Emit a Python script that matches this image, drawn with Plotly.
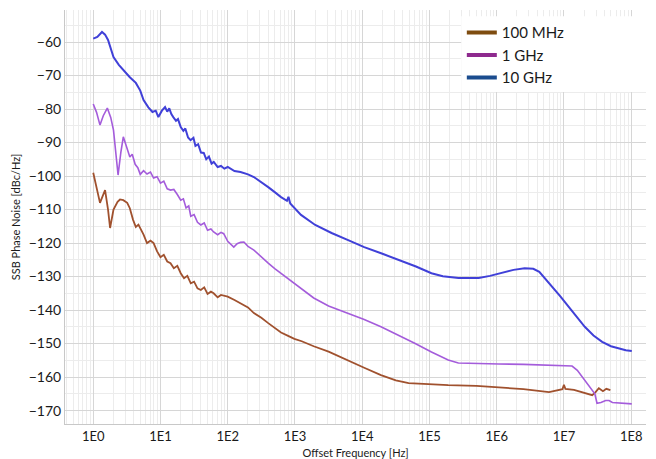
import plotly.graph_objects as go

# ---- data (offset frequency in Hz, SSB phase noise in dBc/Hz) ----
f_10g = [1, 1.15, 1.35, 1.5, 1.66, 2.0, 2.4, 2.8, 3.5, 4.3, 5.0, 5.6, 6.6, 7.6, 8.5, 9.3,
         10.5, 11.7, 12.6, 13.5, 14.5, 15.5, 17.0, 18.2, 20, 21.9, 23.4, 25.7, 28, 30.9, 33.1,
         36.3, 40, 44, 47.9, 52.5, 57.5, 62, 70.8, 79.4, 89.1, 100, 112, 126, 155, 200, 245,
         316, 400, 500, 620, 760, 800, 850, 1020, 1230, 2000, 3500, 6300, 10700, 20000, 35000,
         63000, 107000, 158000, 270000, 400000, 540000, 794000, 1.17e6, 1.78e6, 2.6e6, 3.5e6,
         4.3e6, 5.2e6, 6.6e6, 8.9e6, 1.17e7, 1.55e7, 2.04e7, 2.75e7, 3.7e7, 5.0e7, 6.6e7,
         8.3e7, 1.02e8]
pn_10g = [-59, -58.5, -57, -57.8, -59.4, -64.5, -66.8, -68.4, -70.5, -72.2, -74.5, -77.3,
          -79.5, -80.9, -80.5, -82.4, -80.5, -79.4, -80.8, -79.8, -81.5, -82.4, -83.5, -83,
          -85.4, -86.5, -85.8, -88.5, -89.3, -88.6, -91, -90.5, -93, -93.1, -95, -94.2, -96.3,
          -95.8, -97.3, -97, -97.8, -97.3, -98, -98.5, -98.8, -99.5, -100.3, -101.8, -103.3,
          -104.8, -106.3, -107.4, -106.2, -108.2, -109.8, -111.6, -114.6, -117, -119.2,
          -121.2, -123.2, -125, -127, -129, -129.9, -130.4, -130.5, -130.4, -129.8, -129,
          -128, -127.5, -127.7, -128.6, -130.5, -133.1, -136, -139, -142.2, -145, -147.6,
          -149.5, -150.8, -151.5, -152, -152.2]

f_1g = [1, 1.12, 1.26, 1.41, 1.62, 1.82, 2.0, 2.19, 2.34, 2.57, 2.8, 3.1, 3.3, 3.5, 3.8,
        4.2, 4.6, 5.0, 5.6, 6.3, 7.1, 7.9, 8.9, 10, 11.2, 12.6, 14.1, 15.8, 17.8, 20, 21.9,
        24, 26.3, 28.2, 31.6, 35.5, 39.8, 44.7, 50.1, 56.2, 61.7, 70.8, 79.4, 87.1, 100, 112,
        123, 138, 155, 174, 200, 245, 316, 400, 500, 617, 794, 977, 1260, 1900, 3160, 6170,
        10700, 19000, 33900, 60300, 107000, 190000, 269000, 500000, 1.07e6, 2.5e6, 6.0e6,
        1.0e7, 1.32e7, 1.58e7, 1.86e7, 2.24e7, 2.63e7, 2.88e7, 3.1e7, 3.55e7, 4.17e7,
        4.68e7, 5.25e7, 6.6e7, 8.3e7, 1.02e8]
pn_1g = [-78.5, -81, -84.8, -82, -79.7, -82.5, -86.3, -93, -99.7, -93, -88.3, -91, -93.1,
         -94.3, -93.5, -96.5, -97.5, -99.5, -98.4, -99.4, -98.8, -100.6, -100.2, -102.1,
         -101.5, -103.8, -104.2, -104, -105.5, -107.2, -106.8, -109.5, -108.9, -112, -111.5,
         -113.8, -114.6, -114, -116.2, -115.8, -116.7, -117.5, -116.8, -117.2, -119.5,
         -120.5, -121.2, -120.2, -119.8, -119.7, -121, -122.1, -124.2, -126, -127.6, -129,
         -130.6, -131.9, -133.6, -136.4, -138.8, -140.9, -142.8, -145, -147.4, -149.9, -152.5,
         -154.9, -155.8, -156, -156.1, -156.2, -156.4, -156.5, -156.7, -158, -159.9, -162,
         -163.9, -165, -167.8, -167.6, -167, -167, -167.6, -167.8, -168, -168]

f_100m = [1, 1.12, 1.26, 1.38, 1.5, 1.66, 1.78, 2.0, 2.3, 2.5, 2.8, 3.2, 3.5, 3.9, 4.3, 4.7,
          5.0, 5.6, 6.3, 7.1, 7.9, 8.9, 10, 11.2, 12.6, 14.1, 15.8, 17.8, 20, 22.4, 25.1,
          28.2, 31.6, 35.5, 39.8, 44.7, 50.1, 56.2, 61.7, 70.8, 79.4, 100, 126, 155, 200, 245,
          316, 400, 500, 620, 790, 980, 1260, 1900, 3160, 6170, 10700, 19000, 31600, 49000,
          100000, 190000, 500000, 1.07e6, 2.5e6, 6.0e6, 7.9e6, 9.5e6, 1.0e7, 1.05e7, 1.41e7,
          1.86e7, 2.24e7, 2.63e7, 2.95e7, 3.3e7, 3.8e7, 4.27e7, 4.9e7]
pn_100m = [-99, -103, -108, -106, -104.2, -110, -115.5, -110, -107.7, -107, -107.2, -108,
           -109.6, -113, -115.2, -114.5, -115.5, -117.5, -120, -119.3, -120, -122.5, -124.2,
           -123.5, -125.5, -126, -127.5, -126.8, -129, -130.5, -129.8, -132, -131.5, -133.5,
           -134, -133.2, -135.2, -134.5, -135, -136.2, -135.5, -136, -137, -138, -139.2,
           -140.9, -142.3, -143.9, -145.4, -146.7, -147.7, -148.6, -149.3, -150.8, -152.4,
           -154.9, -157.2, -159.4, -161, -161.8, -162.2, -162.4, -162.6, -163, -163.6, -164.5,
           -164, -163.6, -162.3, -163.5, -163.8, -164.5, -165, -165.4, -164.5, -163.3, -164.2,
           -163.5, -163.9]

series_names = ["100 MHz", "1 GHz", "10 GHz"]
line_colors = ["#A0512E", "#A45CDB", "#4040D8"]
legend_colors = ["#7E4C10", "#8E2A8E", "#1B4C8E"]

x_tickvals = [1, 10, 100, 1e3, 1e4, 1e5, 1e6, 1e7, 1e8]
x_ticktext = ["1E0", "1E1", "1E2", "1E3", "1E4", "1E5", "1E6", "1E7", "1E8"]
y_tickvals = [-60, -70, -80, -90, -100, -110, -120, -130, -140, -150, -160, -170]

fig = go.Figure()
data = [(f_100m, pn_100m), (f_1g, pn_1g), (f_10g, pn_10g)]
widths = [1.8, 1.6, 2.0]
for (fx, py), col, w in zip(data, line_colors, widths):
    fig.add_trace(go.Scatter(x=fx, y=py, mode="lines", showlegend=False,
                             line=dict(color=col, width=w)))
# legend entries (legend swatch colours differ from the plotted line colours)
for name, col in zip(series_names, legend_colors):
    fig.add_trace(go.Scatter(x=[None], y=[None], mode="lines", name=name,
                             line=dict(color=col, width=4)))

font_family = "Lato, 'Open Sans', sans-serif"
fig.update_layout(
    width=656, height=459,
    margin=dict(l=65, r=10, t=10, b=35, autoexpand=False),
    paper_bgcolor="white", plot_bgcolor="white",
    font=dict(family=font_family, color="#1A1A1A"),
    showlegend=True,
    legend=dict(x=0.683, y=0.985, xanchor="left", yanchor="top",
                bgcolor="rgba(255,255,255,0)", borderwidth=0,
                font=dict(size=15, color="#1A1A1A"),
                itemwidth=30, tracegroupgap=0),
    shapes=[dict(type="rect", xref="paper", yref="paper",
                 x0=0.682, x1=1.02, y0=0.802, y1=0.985,
                 fillcolor="white", line=dict(width=0), layer="above")],
    xaxis=dict(type="log", range=[-0.42, 8.22], automargin=False,
               tickmode="array", tickvals=x_tickvals, ticktext=x_ticktext,
               tickfont=dict(size=13), ticks="",
               showgrid=True, gridcolor="#D6D6D6", gridwidth=1,
               minor=dict(dtick="D1", showgrid=True, gridcolor="#ECECEC", gridwidth=1),
               showline=True, linecolor="#C8C8C8", zeroline=False,
               title=dict(text="Offset Frequency [Hz]", font=dict(size=11), standoff=13)),
    yaxis=dict(range=[-174.0, -50.45], automargin=False,
               tickmode="array", tickvals=y_tickvals,
               tickfont=dict(size=14), ticks="",
               showgrid=True, gridcolor="#D6D6D6", gridwidth=1,
               minor=dict(dtick=5, showgrid=True, gridcolor="#ECECEC", gridwidth=1),
               showline=True, linecolor="#C8C8C8", zeroline=False,
               title=dict(text="SSB Phase Noise [dBc/Hz]", font=dict(size=11), standoff=5)),
)

fig.write_html("out.html")
